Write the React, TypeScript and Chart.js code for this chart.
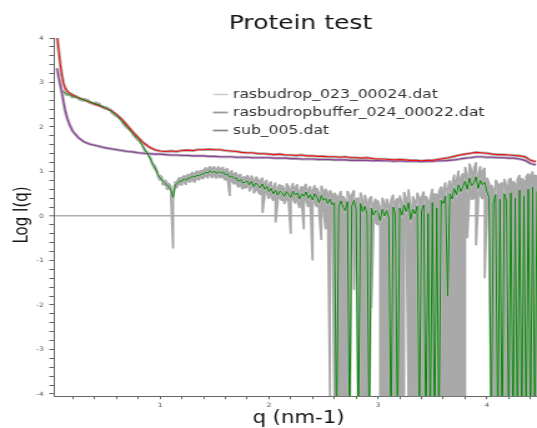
import React, { useEffect, useRef } from "react";
import { Chart, registerables } from "chart.js";

Chart.register(...registerables);

const TITLE = "Protein test";
const X_TITLE = "q (nm-1)";
const Y_TITLE = "Log I(q)";
const seriesNames = ["rasbudrop_023_00024.dat", "rasbudropbuffer_024_00022.dat", "sub_005.dat"];

const xTickLabels = ["1", "2", "3", "4"];
const yTickLabels = ["-4", "-3", "-2", "-1", "0", "1", "2", "3", "4"];

// sample / buffer curves
const rpQ = [
  0.055, 0.07, 0.085, 0.1, 0.115, 0.13, 0.15, 0.17, 0.2, 0.25, 0.3, 0.35, 0.4, 0.45, 0.5, 0.55, 0.6, 0.65, 0.7, 0.75, 0.8, 0.85, 0.9, 0.95,
  1.0, 1.05, 1.1, 1.15, 1.2, 1.25, 1.3, 1.35, 1.4, 1.45, 1.5, 1.55, 1.6, 1.65, 1.7, 1.75, 1.8, 1.85, 1.9, 1.95,
  2.0, 2.05, 2.1, 2.15, 2.2, 2.25, 2.3, 2.35, 2.4, 2.45, 2.5, 2.55, 2.6, 2.65, 2.7, 2.75, 2.8, 2.85, 2.9, 2.95,
  3.0, 3.05, 3.1, 3.15, 3.2, 3.25, 3.3, 3.35, 3.4, 3.45, 3.5, 3.55, 3.6, 3.65, 3.7, 3.75, 3.8, 3.85, 3.9, 3.95,
  4.0, 4.05, 4.1, 4.15, 4.2, 4.25, 4.3, 4.35, 4.4, 4.45,
];
const sampleLogI = [
  4.05, 3.72, 3.4, 3.15, 2.97, 2.87, 2.8, 2.76, 2.72, 2.66, 2.61, 2.56, 2.51, 2.47, 2.42, 2.37, 2.28, 2.17, 2.03, 1.89, 1.76, 1.64, 1.55, 1.49,
  1.46, 1.45, 1.46, 1.45, 1.47, 1.48, 1.47, 1.49, 1.49, 1.5, 1.49, 1.49, 1.47, 1.46, 1.45, 1.43, 1.42, 1.42, 1.4, 1.4,
  1.39, 1.38, 1.39, 1.37, 1.37, 1.36, 1.37, 1.35, 1.35, 1.34, 1.34, 1.33, 1.33, 1.32, 1.33, 1.31, 1.31, 1.3, 1.31, 1.29,
  1.28, 1.28, 1.27, 1.26, 1.27, 1.26, 1.25, 1.25, 1.24, 1.25, 1.25, 1.27, 1.29, 1.31, 1.34, 1.37, 1.39, 1.41, 1.43, 1.42,
  1.41, 1.39, 1.38, 1.38, 1.37, 1.36, 1.35, 1.33, 1.25, 1.22,
];
const bufferLogI = [
  3.32, 3.12, 2.94, 2.76, 2.55, 2.36, 2.18, 2.05, 1.9, 1.76, 1.67, 1.62, 1.59, 1.56, 1.53, 1.51, 1.49, 1.47, 1.45, 1.44, 1.42, 1.41, 1.4, 1.39,
  1.39, 1.38, 1.37, 1.37, 1.36, 1.36, 1.35, 1.35, 1.35, 1.34, 1.34, 1.33, 1.33, 1.33, 1.32, 1.32, 1.32, 1.31, 1.31, 1.31,
  1.31, 1.3, 1.3, 1.3, 1.29, 1.29, 1.28, 1.28, 1.28, 1.27, 1.27, 1.27, 1.26, 1.26, 1.26, 1.25, 1.25, 1.25, 1.25, 1.24,
  1.25, 1.24, 1.24, 1.23, 1.24, 1.23, 1.23, 1.23, 1.22, 1.23, 1.23, 1.24, 1.24, 1.25, 1.26, 1.28, 1.3, 1.31, 1.33, 1.33,
  1.32, 1.32, 1.31, 1.31, 1.3, 1.3, 1.28, 1.25, 1.18, 1.15,
];

// subtracted curve (-5 = log of a non-positive value, off the bottom)
const subQ = [
  0.11, 0.13, 0.15, 0.18, 0.21, 0.25, 0.3, 0.35, 0.4, 0.45, 0.5, 0.55, 0.6, 0.65, 0.7, 0.75, 0.8, 0.84, 0.88, 0.92, 0.95, 0.98,
  1.0, 1.02, 1.04, 1.06, 1.08, 1.1, 1.12, 1.14, 1.16, 1.18,
  1.2, 1.22, 1.24, 1.26, 1.28, 1.3, 1.32, 1.34, 1.36, 1.38,
  1.4, 1.42, 1.44, 1.46, 1.48, 1.5, 1.52, 1.54, 1.56, 1.58,
  1.6, 1.62, 1.64, 1.66, 1.68, 1.7, 1.72, 1.74, 1.76, 1.78,
  1.8, 1.82, 1.84, 1.86, 1.88, 1.9, 1.92, 1.94, 1.96, 1.98,
  2.0, 2.02, 2.04, 2.06, 2.08, 2.1, 2.12, 2.14, 2.16, 2.18,
  2.2, 2.22, 2.24, 2.26, 2.28, 2.3, 2.32, 2.34, 2.36, 2.38,
  2.4, 2.42, 2.44, 2.46, 2.48, 2.5, 2.52, 2.54, 2.56, 2.58,
  2.6, 2.62, 2.64, 2.66, 2.68, 2.7, 2.72, 2.74, 2.76, 2.78,
  2.8, 2.82, 2.84, 2.86, 2.88, 2.9, 2.92, 2.94, 2.96, 2.98,
  3.0, 3.02, 3.04, 3.06, 3.08, 3.1, 3.12, 3.14, 3.16, 3.18,
  3.2, 3.22, 3.24, 3.26, 3.28, 3.3, 3.32, 3.34, 3.36, 3.38,
  3.4, 3.42, 3.44, 3.46, 3.48, 3.5, 3.52, 3.54, 3.56, 3.58,
  3.6, 3.62, 3.64, 3.66, 3.68, 3.7, 3.72, 3.74, 3.76, 3.78,
  3.8, 3.82, 3.84, 3.86, 3.88, 3.9, 3.92, 3.94, 3.96, 3.98,
  4.0, 4.02, 4.04, 4.06, 4.08, 4.1, 4.12, 4.14, 4.16, 4.18,
  4.2, 4.22, 4.24, 4.26, 4.28, 4.3, 4.32, 4.34, 4.36, 4.38,
  4.4, 4.42, 4.44, 4.46,
];
const subLogI = [
  2.8, 2.76, 2.74, 2.71, 2.68, 2.65, 2.61, 2.57, 2.53, 2.49, 2.43, 2.36, 2.26, 2.13, 1.99, 1.85, 1.72, 1.58, 1.42, 1.24, 1.1, 0.93,
  0.86, 0.79, 0.75, 0.69, 0.67, 0.58, 0.42, 0.7, 0.73, 0.79,
  0.78, 0.84, 0.8, 0.86, 0.85, 0.9, 0.87, 0.92, 0.9, 0.95,
  0.94, 0.99, 0.96, 1.02, 0.97, 1.01, 0.95, 1.0, 0.96, 0.99,
  0.92, 0.95, 0.87, 0.9, 0.84, 0.86, 0.78, 0.82, 0.74, 0.76,
  0.79, 0.7, 0.78, 0.66, 0.74, 0.69, 0.63, 0.72, 0.6, 0.67,
  0.55, 0.62, 0.5, 0.58, 0.47, 0.56, 0.52, 0.44, 0.55, 0.49,
  0.42, 0.56, 0.47, 0.52, 0.38, 0.5, 0.44, 0.54, 0.4, 0.48,
  0.36, 0.5, 0.42, 0.3, 0.46, 0.35, 0.4, 0.28, 0.38, 0.25,
  0.3, -5, 0.18, 0.34, 0.2, 0.12, 0.32, -5, 0.22, 0.35,
  0.15, -5, 0.28, 0.1, 0.22, 0.05, -5, 0.18, 0.02, 0.12,
  0.08, -0.1, 0.15, 0.0, 0.12, -0.05, -5, 0.2, 0.05, -5,
  0.18, 0.02, 0.25, 0.1, 0.3, -0.08, 0.15, 0.05, 0.22, -5,
  0.12, 0.25, -5, 0.05, -5, 0.3, -5, 0.18, -5, 0.35,
  0.28, 0.45, -1.8, 0.5, 0.38, 0.62, 0.48, 0.7, 0.55, 0.66,
  0.78, 0.6, 0.85, 0.68, 0.74, 0.88, 0.62, 0.8, 0.7, 0.76,
  0.55, 0.42, -5, 0.3, 0.48, -5, 0.38, -5, 0.5, 0.35,
  -5, 0.52, -5, 0.4, -5, 0.58, -5, 0.45, -5, 0.6,
  -5, 0.65, -5, 0.55,
];
// error bar ends (log units); -4.05 = lower end at / below the bottom of the plot
const subErrLow = [
  2.77, 2.73, 2.71, 2.68, 2.65, 2.62, 2.58, 2.54, 2.5, 2.46, 2.4, 2.33, 2.23, 2.1, 1.96, 1.82, 1.69, 1.54, 1.38, 1.2, 1.05, 0.88,
  0.8, 0.72, 0.69, 0.61, 0.6, 0.48, -0.73, 0.62, 0.66, 0.71,
  0.69, 0.76, 0.7, 0.78, 0.76, 0.81, 0.75, 0.82, 0.81, 0.85,
  0.84, 0.89, 0.85, 0.92, 0.85, 0.91, 0.84, 0.88, 0.86, 0.87,
  0.8, 0.83, 0.45, 0.78, 0.71, 0.74, 0.64, 0.69, 0.6, 0.63,
  0.65, 0.55, 0.64, 0.51, 0.59, 0.55, 0.48, 0.07, 0.44, 0.52,
  0.39, 0.45, 0.34, -0.15, 0.3, 0.4, 0.34, 0.27, 0.37, 0.32,
  -0.4, 0.38, 0.28, 0.34, 0.18, 0.31, -0.3, 0.35, 0.2, 0.27,
  -1.0, 0.3, 0.2, 0.09, -0.54, 0.13, -0.3, 0.05, -4.05, 0.01,
  -4.05, -4.05, -4.05, -4.05, -4.05, -4.05, -4.05, -4.05, 0.0, -1.66,
  -0.1, -4.05, -4.05, -4.05, -4.05, -4.05, -4.05, -2.07, -0.23, -0.15,
  -0.2, -4.05, -4.05, -4.05, -4.05, -4.05, -4.05, -4.05, -4.05, -4.05,
  -4.05, -4.05, -4.05, -0.2, -4.05, -4.05, -4.05, -4.05, -4.05, -4.05,
  -4.05, -4.05, -4.05, -4.05, -4.05, -4.05, -4.05, -4.05, -4.05, -4.05,
  -4.05, -4.05, -4.05, -4.05, -4.05, -4.05, -4.05, -4.05, -4.05, -4.05,
  -4.05, -0.5, 0.52, 0.37, 0.4, -0.66, 0.3, 0.47, 0.38, -1.4,
  0.22, 0.1, -4.05, -4.05, -4.05, -4.05, -4.05, -4.05, -4.05, -4.05,
  -4.05, -4.05, -4.05, -4.05, -4.05, -4.05, -4.05, -4.05, -4.05, -4.05,
  -4.05, -4.05, -4.05, -4.05,
];
const subErrHigh = [
  2.83, 2.79, 2.77, 2.74, 2.71, 2.68, 2.64, 2.6, 2.56, 2.52, 2.46, 2.39, 2.29, 2.16, 2.02, 1.88, 1.75, 1.62, 1.46, 1.28, 1.15, 0.98,
  0.92, 0.86, 0.81, 0.77, 0.74, 0.66, 0.52, 0.78, 0.8, 0.87,
  0.86, 0.91, 0.89, 0.94, 0.93, 0.99, 0.95, 1.02, 0.99, 1.03,
  1.03, 1.09, 1.05, 1.12, 1.08, 1.11, 1.05, 1.11, 1.06, 1.1,
  1.03, 1.07, 0.98, 1.02, 0.96, 0.97, 0.91, 0.94, 0.87, 0.88,
  0.92, 0.84, 0.91, 0.8, 0.88, 0.82, 0.78, 0.86, 0.75, 0.81,
  0.7, 0.78, 0.65, 0.75, 0.63, 0.71, 0.69, 0.6, 0.73, 0.66,
  0.59, 0.74, 0.64, 0.71, 0.56, 0.67, 0.63, 0.72, 0.6, 0.67,
  0.56, 0.69, 0.63, 0.5, 0.68, 0.55, 0.61, 0.5, 0.58, 0.47,
  0.52, 0.45, 0.42, 0.56, 0.45, 0.35, 0.56, 0.45, 0.47, 0.58,
  0.39, 0.4, 0.53, 0.34, 0.48, 0.3, 0.38, 0.44, 0.27, 0.39,
  0.35, 0.18, 0.41, 0.28, 0.39, 0.24, 0.35, 0.48, 0.32, 0.4,
  0.46, 0.29, 0.54, 0.38, 0.6, 0.2, 0.44, 0.33, 0.52, 0.4,
  0.41, 0.55, 0.45, 0.33, 0.4, 0.61, 0.5, 0.48, 0.55, 0.66,
  0.58, 0.76, 0.6, 0.8, 0.7, 0.93, 0.78, 1.02, 0.86, 0.96,
  1.1, 0.9, 1.18, 0.99, 1.06, 1.21, 0.93, 1.12, 1.01, 1.08,
  0.86, 0.74, 0.7, 0.61, 0.81, 0.72, 0.7, 0.75, 0.83, 0.67,
  0.8, 0.85, 0.78, 0.72, 0.82, 0.92, 0.85, 0.78, 0.88, 0.95,
  0.9, 1.0, 0.92, 0.89,
];

// internal canvas is drawn narrower and stretched to 537px, like the reference
const CANVAS_W = 430;
const CANVAS_H = 428;

const FONT = '"DejaVu Sans", "Verdana", sans-serif';

const textPlugin = {
  id: "refTexts",
  afterDraw(chart: any) {
    const ctx = chart.ctx as CanvasRenderingContext2D;
    ctx.save();
    ctx.fillStyle = "#141414";
    ctx.textAlign = "center";
    ctx.textBaseline = "alphabetic";
    ctx.font = `20px ${FONT}`;
    ctx.fillText(TITLE, 240.6, 29);
    ctx.font = `17px ${FONT}`;
    ctx.fillText(X_TITLE, 239, 423);
    ctx.save();
    ctx.translate(18.5, 215);
    ctx.rotate(-Math.PI / 2);
    ctx.font = `15px ${FONT}`;
    ctx.textBaseline = "middle";
    ctx.fillText(Y_TITLE, 0, 0);
    ctx.restore();

    const legendLine = ["#c9c9c9", "#9a9a9a", "#8c8c8c"];
    ctx.textAlign = "left";
    ctx.textBaseline = "middle";
    ctx.font = `12.5px ${FONT}`;
    seriesNames.forEach((name, i) => {
      const y = 94.5 + i * 18;
      ctx.strokeStyle = legendLine[i];
      ctx.lineWidth = i === 0 ? 1.4 : 1.8;
      ctx.beginPath();
      ctx.moveTo(170.5, y);
      ctx.lineTo(182.5, y);
      ctx.stroke();
      ctx.fillStyle = "#333";
      ctx.fillText(name, 186.5, y + 0.5);
    });
    ctx.restore();
  },
};

const isInt = (v: number) => Math.abs(v - Math.round(v)) < 1e-6;

export default function App() {
  const ref = useRef<HTMLCanvasElement | null>(null);

  useEffect(() => {
    if (!ref.current) return;
    const pts = (xs: number[], ys: number[]) => xs.map((x, i) => ({ x, y: ys[i] }));
    // error bars as one continuous serpentine path: low->high, next high->low, ...
    const errPath: { x: number; y: number }[] = [];
    subQ.forEach((q, i) => {
      if (i % 2 === 0) errPath.push({ x: q, y: subErrLow[i] }, { x: q, y: subErrHigh[i] });
      else errPath.push({ x: q, y: subErrHigh[i] }, { x: q, y: subErrLow[i] });
    });

    const chart = new Chart(ref.current, {
      type: "line",
      data: {
        datasets: [
          {
            label: seriesNames[2],
            data: pts(subQ, subLogI),
            borderColor: "#0b870b",
            borderWidth: 1,
            pointRadius: 0,
            order: 0,
          },
          {
            label: seriesNames[0],
            data: pts(rpQ, sampleLogI),
            borderColor: "#ee1515",
            borderWidth: 1.1,
            pointRadius: 0,
            order: 1,
          },
          {
            label: seriesNames[1],
            data: pts(rpQ, bufferLogI),
            borderColor: "#8e3c9e",
            borderWidth: 1.1,
            pointRadius: 0,
            order: 1,
          },
          {
            label: "sample err",
            data: pts(rpQ, sampleLogI),
            borderColor: "#b4b4b4",
            borderWidth: 2.8,
            pointRadius: 0,
            order: 2,
          },
          {
            label: "buffer err",
            data: pts(rpQ, bufferLogI),
            borderColor: "#b4b4b4",
            borderWidth: 2.8,
            pointRadius: 0,
            order: 2,
          },
          {
            label: "sub err",
            data: pts(subQ, subLogI),
            borderColor: "#bcbcbc",
            borderWidth: 2.0,
            pointRadius: 0,
            order: 2,
          },
          {
            label: "sub error bars",
            data: errPath as any,
            borderColor: "#a9a9a9",
            borderWidth: 1.8,
            borderJoinStyle: "bevel",
            pointRadius: 0,
            order: 3,
          },
        ],
      },
      options: {
        animation: false,
        responsive: false,
        maintainAspectRatio: false,
        devicePixelRatio: 1,
        events: [],
        layout: { padding: { top: 38, left: 0, right: 0, bottom: 0 } },
        elements: { line: { tension: 0 } },
        plugins: {
          legend: { display: false },
          title: { display: false },
          tooltip: { enabled: false },
        },
        scales: {
          x: {
            type: "linear",
            min: 0.03,
            max: 4.46,
            offset: false,
            afterFit: (s: any) => {
              s.height = CANVAS_H - 396.2;
            },
            border: { color: "#666", width: 1 },
            grid: { drawOnChartArea: false, offset: false, tickLength: 3, tickColor: "#666" },
            ticks: {
              stepSize: 0.2,
              includeBounds: false,
              autoSkip: false,
              maxRotation: 0,
              padding: 3,
              color: "#555",
              font: { family: FONT, size: 6 },
              callback: (v: any) => {
                const n = Number(v);
                const lbl = String(Math.round(n));
                return isInt(n) && xTickLabels.includes(lbl) ? lbl : "";
              },
            },
          },
          y: {
            type: "linear",
            min: -4.05,
            max: 4,
            afterFit: (s: any) => {
              s.width = 43.5;
            },
            border: { color: "#666", width: 1 },
            grid: {
              color: (c: any) => (c.tick && Math.abs(c.tick.value) < 1e-6 ? "#adadad" : "rgba(0,0,0,0)"),
              lineWidth: (c: any) => (c.tick && Math.abs(c.tick.value) < 1e-6 ? 1.6 : 1),
              tickColor: "#666",
              tickLength: 4,
              tickWidth: 1,
            },
            ticks: {
              stepSize: 0.2,
              includeBounds: false,
              autoSkip: false,
              padding: 4.5,
              color: "#555",
              font: { family: FONT, size: 6 },
              callback: (v: any) => {
                const n = Number(v);
                const lbl = String(Math.round(n));
                return isInt(n) && yTickLabels.includes(lbl) ? lbl : "";
              },
            },
          },
        },
      } as any,
      plugins: [textPlugin],
    });
    return () => chart.destroy();
  }, []);

  return (
    <div style={{ position: "absolute", left: 0, top: 0, width: 537, height: 428, background: "#fff" }}>
      <canvas
        ref={ref}
        width={CANVAS_W}
        height={CANVAS_H}
        style={{ width: "537px", height: "428px", display: "block" }}
      />
    </div>
  );
}
